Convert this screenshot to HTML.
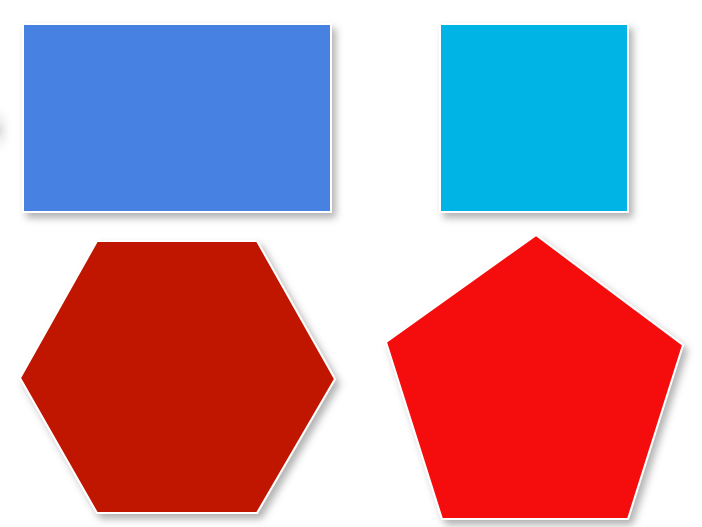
<!DOCTYPE html>
<html><head><meta charset="utf-8"><style>
html,body{margin:0;padding:0;background:#fff;width:702px;height:527px;overflow:hidden}
svg{display:block}
</style></head><body>
<svg width="702" height="527" viewBox="0 0 702 527">
<defs>
<filter id="sh" x="-20%" y="-20%" width="140%" height="140%">
<feDropShadow dx="4" dy="5" stdDeviation="4" flood-color="#000" flood-opacity="0.3"/>
</filter>
<radialGradient id="lg"><stop offset="0" stop-color="#ddd"/><stop offset="1" stop-color="#fff" stop-opacity="0"/></radialGradient>
</defs>
<ellipse cx="0" cy="130" rx="14" ry="28" fill="url(#lg)"/>
<rect x="23" y="24" width="308" height="188" fill="#4682e2" stroke="#fff" stroke-width="2" filter="url(#sh)"/>
<rect x="440" y="24" width="188" height="188" fill="#00b4e6" stroke="#fff" stroke-width="2" filter="url(#sh)"/>
<polygon points="97,241 257,241 335,379 257,513 97,513 20,378" fill="#c01400" stroke="#fff" stroke-width="2" filter="url(#sh)"/>
<polygon points="536,235 683,345 628,519 442,519 386,342" fill="#f50a0a" stroke="#fff" stroke-width="2" filter="url(#sh)"/>
</svg>
</body></html>
